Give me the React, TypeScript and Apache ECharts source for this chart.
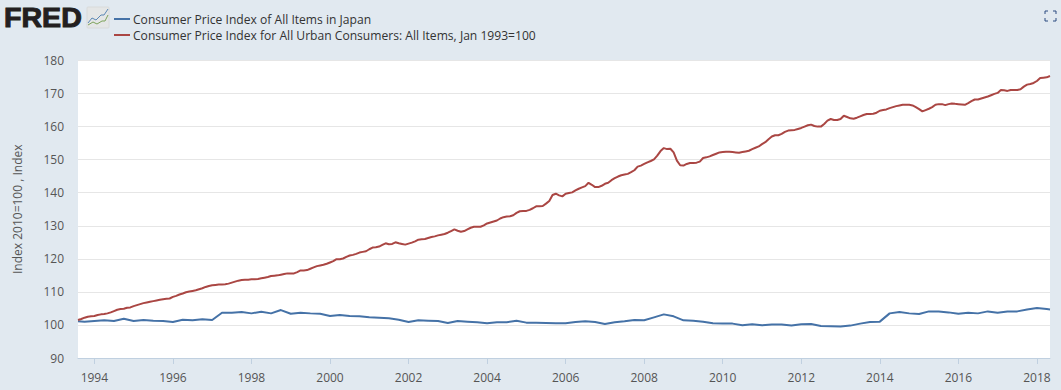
import React, { useEffect, useRef } from "react";
import * as echarts from "echarts";

const japanName = "Consumer Price Index of All Items in Japan";
const usName = "Consumer Price Index for All Urban Consumers: All Items, Jan 1993=100";
const yAxisTitle = "Index 2010=100 , Index";

// US CPI, monthly, August 1993 to May 2018
const us1993 = [101.5, 101.8, 102.2, 102.5, 102.6];
const us1994 = [102.7, 103.0, 103.2, 103.3, 103.5, 103.8, 104.2, 104.6, 104.8, 104.9, 105.2, 105.3];
const us1995 = [105.7, 106.0, 106.3, 106.6, 106.8, 107.0, 107.2, 107.4, 107.6, 107.8, 107.9, 108.0];
const us1996 = [108.5, 108.8, 109.2, 109.5, 109.9, 110.1, 110.3, 110.5, 110.8, 111.1, 111.5, 111.8];
const us1997 = [112.0, 112.1, 112.2, 112.2, 112.3, 112.5, 112.8, 113.1, 113.4, 113.6, 113.7, 113.7];
const us1998 = [113.8, 113.8, 113.9, 114.1, 114.3, 114.5, 114.8, 114.9, 115.0, 115.2, 115.4, 115.6];
const us1999 = [115.6, 115.6, 116.0, 116.5, 116.5, 116.6, 117.0, 117.4, 117.8, 118.0, 118.2, 118.5];
const us2000 = [118.9, 119.3, 119.9, 119.9, 120.1, 120.6, 121.0, 121.2, 121.5, 121.9, 122.1, 122.3];
const us2001 = [122.9, 123.4, 123.5, 123.7, 124.2, 124.7, 124.4, 124.5, 125.0, 124.7, 124.5, 124.3];
const us2002 = [124.6, 124.9, 125.3, 125.8, 125.9, 126.0, 126.3, 126.6, 126.8, 127.1, 127.3, 127.5];
const us2003 = [127.9, 128.4, 128.9, 128.5, 128.2, 128.4, 128.9, 129.4, 129.7, 129.7, 129.7, 130.1];
const us2004 = [130.7, 131.0, 131.3, 131.6, 132.2, 132.6, 132.8, 132.9, 133.2, 133.9, 134.4, 134.5];
const us2005 = [134.5, 134.8, 135.3, 135.9, 135.9, 136.0, 136.7, 137.5, 139.3, 139.7, 139.2, 138.9];
const us2006 = [139.7, 139.9, 140.1, 140.7, 141.2, 141.6, 142.0, 143.0, 142.4, 141.7, 141.7, 142.1];
const us2007 = [142.7, 143.0, 143.8, 144.4, 144.9, 145.3, 145.5, 145.7, 146.2, 146.8, 147.9, 148.2];
const us2008 = [148.7, 149.2, 149.6, 150.1, 151.2, 152.6, 153.5, 153.2, 153.3, 152.2, 149.7, 148.3];
const us2009 = [148.2, 148.7, 149.0, 149.0, 149.1, 149.4, 150.5, 150.7, 151.0, 151.4, 151.8, 152.2];
const us2010 = [152.3, 152.4, 152.4, 152.3, 152.2, 152.1, 152.3, 152.5, 152.7, 153.2, 153.6, 154.0];
const us2011 = [154.7, 155.3, 156.2, 157.0, 157.4, 157.4, 157.8, 158.4, 158.8, 158.9, 159.0, 159.3];
const us2012 = [159.6, 160.0, 160.4, 160.6, 160.2, 160.0, 160.0, 160.8, 161.8, 162.3, 162.0, 162.0];
const us2013 = [162.3, 163.3, 162.9, 162.5, 162.4, 162.7, 163.1, 163.5, 163.8, 163.8, 163.9, 164.2];
const us2014 = [164.8, 165.0, 165.2, 165.6, 165.9, 166.2, 166.4, 166.6, 166.6, 166.6, 166.4, 165.9];
const us2015 = [165.3, 164.6, 165.0, 165.4, 165.9, 166.6, 166.8, 166.8, 166.5, 166.8, 167.0, 166.9];
const us2016 = [166.8, 166.7, 166.6, 167.1, 167.7, 168.2, 168.2, 168.5, 168.8, 169.1, 169.5, 169.9];
const us2017 = [170.2, 171.1, 171.0, 170.8, 171.1, 171.1, 171.1, 171.3, 172.1, 172.7, 172.9, 173.2];
const us2018 = [173.8, 174.7, 174.8, 174.9, 175.3];

// Japan CPI, quarterly: January, April, July, October of each year
const jp1993 = [101.0];
const jp1994 = [101.2, 101.4, 101.2, 101.9];
const jp1995 = [101.2, 101.5, 101.3, 101.2];
const jp1996 = [100.9, 101.6, 101.4, 101.7];
const jp1997 = [101.5, 103.7, 103.7, 103.9];
const jp1998 = [103.5, 104.0, 103.5, 104.5];
const jp1999 = [103.4, 103.7, 103.5, 103.4];
const jp2000 = [102.7, 103.0, 102.7, 102.6];
const jp2001 = [102.3, 102.2, 102.0, 101.6];
const jp2002 = [100.9, 101.4, 101.3, 101.2];
const jp2003 = [100.6, 101.2, 101.0, 100.8];
const jp2004 = [100.5, 100.8, 100.8, 101.3];
const jp2005 = [100.7, 100.7, 100.6, 100.5];
const jp2006 = [100.5, 100.9, 101.1, 100.9];
const jp2007 = [100.3, 100.8, 101.1, 101.5];
const jp2008 = [101.4, 102.3, 103.2, 102.6];
const jp2009 = [101.4, 101.3, 101.0, 100.5];
const jp2010 = [100.4, 100.4, 99.9, 100.2];
const jp2011 = [99.9, 100.1, 100.1, 99.8];
const jp2012 = [100.2, 100.3, 99.7, 99.6];
const jp2013 = [99.5, 99.8, 100.4, 100.9];
const jp2014 = [101.0, 103.5, 103.9, 103.5];
const jp2015 = [103.3, 104.1, 104.1, 103.8];
const jp2016 = [103.4, 103.7, 103.5, 104.1];
const jp2017 = [103.7, 104.1, 104.1, 104.7];
const jp2018 = [105.1, 104.8];
const jpFirstEdge = 101.1; // left edge of the plot, August 1993
const jpLastEdge = 104.7; // right edge of the plot, May 2018

const yTicks = { min: 90, max: 180, interval: 10 };
const labelEvery = 2; // years

const usValues = [
  ...us1993, ...us1994, ...us1995, ...us1996, ...us1997, ...us1998, ...us1999, ...us2000, ...us2001,
  ...us2002, ...us2003, ...us2004, ...us2005, ...us2006, ...us2007, ...us2008, ...us2009, ...us2010,
  ...us2011, ...us2012, ...us2013, ...us2014, ...us2015, ...us2016, ...us2017, ...us2018,
];
const jpQuarterly = [
  ...jp1993, ...jp1994, ...jp1995, ...jp1996, ...jp1997, ...jp1998, ...jp1999, ...jp2000, ...jp2001,
  ...jp2002, ...jp2003, ...jp2004, ...jp2005, ...jp2006, ...jp2007, ...jp2008, ...jp2009, ...jp2010,
  ...jp2011, ...jp2012, ...jp2013, ...jp2014, ...jp2015, ...jp2016, ...jp2017, ...jp2018,
];

const months: string[] = usValues.map((_, i) => {
  const total = 1993 * 12 + 7 + i;
  const y = Math.floor(total / 12);
  const m = total % 12;
  return `${y}-${String(m + 1).padStart(2, "0")}`;
});

// Japan's quarters sit on the monthly axis; first quarter is October 1993 (index 2)
const jpValues: (number | null)[] = months.map(() => null);
jpQuarterly.forEach((v, i) => {
  jpValues[2 + i * 3] = v;
});
jpValues[0] = jpFirstEdge;
jpValues[months.length - 1] = jpLastEdge;

const isLabelled = (cat: string) => {
  const [y, m] = cat.split("-").map(Number);
  return m === 1 && y % labelEvery === 0;
};
const showTick = (_: number, cat: string) => isLabelled(cat);

const FONT = '"Open Sans", sans-serif';
const TEXT = "#555555";

echarts.graphic.registerShape(
  "fullscreenMark",
  echarts.graphic.extendPath("M0 3V0H3 M8 0H11V3 M11 7V10H8 M3 10H0V7", {}) as any
);

export default function App() {
  const ref = useRef<HTMLDivElement>(null);

  useEffect(() => {
    document.body.style.margin = "0";
    const chart = echarts.init(ref.current!, undefined, { renderer: "svg" });
    chart.setOption({
      animation: false,
      backgroundColor: "#e1e9f0",
      textStyle: { fontFamily: FONT },
      grid: {
        left: 78,
        right: 11,
        top: 60.5,
        bottom: 32,
        show: true,
        backgroundColor: "#ffffff",
        borderWidth: 0,
        containLabel: false,
        outerBoundsMode: "none",
      },
      legend: {
        left: 109,
        top: 6,
        orient: "vertical",
        itemGap: 0,
        itemWidth: 16,
        itemHeight: 2,
        icon: "rect",
        textStyle: { fontFamily: FONT, fontSize: 12.1, color: "#333333", lineHeight: 16, padding: [0, 0, 0, -2] },
        data: [japanName, usName],
      },
      xAxis: {
        type: "category",
        boundaryGap: false,
        data: months,
        axisLine: { lineStyle: { color: "#c0d0e0", width: 1 } },
        axisTick: { show: true, length: 6, interval: showTick, lineStyle: { color: "#c0d0e0" } },
        axisLabel: {
          interval: showTick,
          formatter: (v: string) => v.slice(0, 4),
          color: TEXT,
          fontSize: 12,
          fontFamily: FONT,
          margin: 13,
        },
        splitLine: { show: false },
      },
      yAxis: {
        type: "value",
        min: yTicks.min,
        max: yTicks.max,
        interval: yTicks.interval,
        name: yAxisTitle,
        nameLocation: "middle",
        nameGap: 55,
        nameTextStyle: { color: TEXT, fontSize: 12, fontFamily: FONT },
        axisLine: { show: false },
        axisTick: { show: false },
        axisLabel: { color: TEXT, fontSize: 12, fontFamily: FONT, margin: 14 },
        splitLine: { lineStyle: { color: "#e6e6e6", width: 1 } },
      },
      series: [
        {
          name: japanName,
          type: "line",
          data: jpValues,
          connectNulls: true,
          showSymbol: false,
          symbol: "none",
          color: "#4572a7",
          lineStyle: { color: "#4572a7", width: 2 },
          z: 3,
        },
        {
          name: usName,
          type: "line",
          data: usValues,
          showSymbol: false,
          symbol: "none",
          color: "#aa4643",
          lineStyle: { color: "#aa4643", width: 2 },
          z: 3,
        },
      ],
      graphic: [
        {
          type: "text",
          x: 4,
          y: 4,
          scaleX: 1.04,
          style: { text: "FRED", font: 'bold 27.5px "Liberation Sans", Arial, sans-serif', fill: "#231f20", stroke: "#231f20", lineWidth: 1 },
        },
        { type: "rect", shape: { x: 87, y: 7, width: 22, height: 21, r: 1 }, style: { fill: "#e4e6e6", stroke: "#d8dada", lineWidth: 1 } },
        { type: "polyline", shape: { points: [[88, 23], [92, 18], [96, 20], [101, 15], [104, 15], [108, 9]] }, style: { fill: "none", stroke: "#5b87b5", lineWidth: 1 } },
        { type: "polyline", shape: { points: [[88, 25], [93, 22], [97, 24], [102, 21], [105, 21], [108, 15]] }, style: { fill: "none", stroke: "#7da35b", lineWidth: 1 } },
        { type: "fullscreenMark", x: 1045, y: 11, style: { fill: "none", stroke: "#2b4a80", lineWidth: 1 } },
      ],
    });
    return () => chart.dispose();
  }, []);

  return <div ref={ref} style={{ width: 1061, height: 390 }} />;
}
